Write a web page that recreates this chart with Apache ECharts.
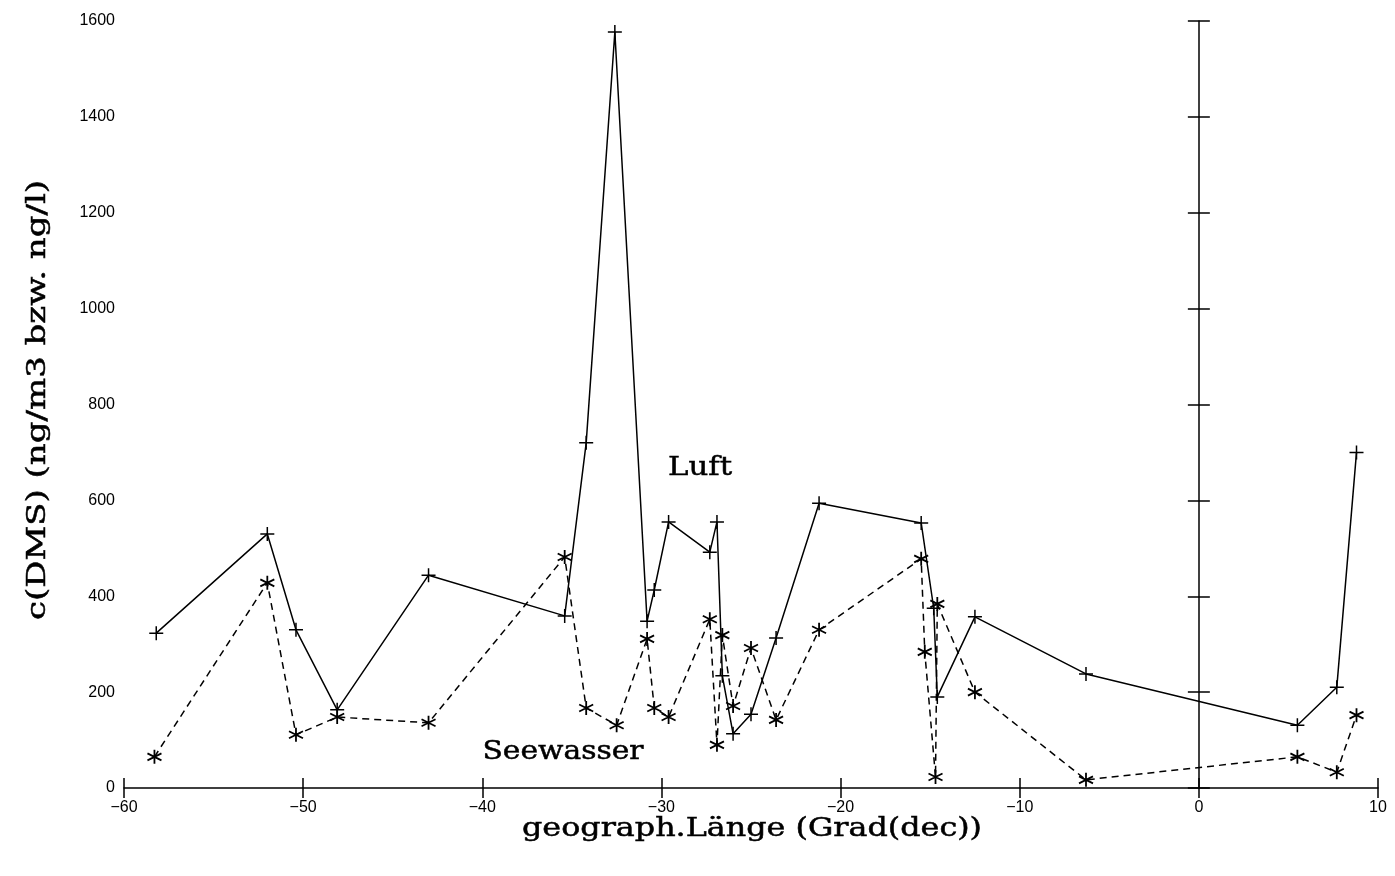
<!DOCTYPE html>
<html>
<head>
<meta charset="utf-8">
<script src="https://cdn.jsdelivr.net/npm/echarts@6/dist/echarts.min.js"></script>
<style>
html,body{margin:0;padding:0;background:#fff;}
#chart{width:1395px;height:876px;}
</style>
</head>
<body>
<div id="chart"></div>
<script>
// Luft (air), solid line with "+" markers
var luftLon = [-58.2, -52.0, -50.4, -48.1, -43.0, -35.4, -34.2, -32.6, -30.8, -30.4, -29.6, -27.3, -26.9, -26.6, -26.0, -25.0, -23.6, -21.2, -15.5, -14.8, -14.6, -12.5, -6.3, 5.5, 7.7, 8.8];
var luftVal = [323, 530, 330, 163, 444, 359, 720, 1577, 348, 413, 555, 492, 555, 234, 113, 154, 313, 594, 553, 375, 190, 357, 238, 131, 210, 700];
// Seewasser (sea water), dashed line with "*" markers
var seeLon = [-58.3, -52.0, -50.4, -48.1, -43.0, -35.4, -34.2, -32.5, -30.8, -30.4, -29.6, -27.3, -26.9, -26.6, -26.0, -25.0, -23.6, -21.2, -15.5, -15.3, -14.7, -14.6, -12.5, -6.3, 5.5, 7.7, 8.8];
var seeVal = [65, 428, 111, 148, 136, 482, 167, 131, 311, 167, 148, 352, 90, 319, 171, 292, 142, 330, 478, 284, 23, 384, 200, 17, 65, 33, 152];

var xTicks = { min: -60, max: 10, interval: 10 };
var yTicks = { min: 0, max: 1600, interval: 200 };

var xTitle = 'geograph.Länge (Grad(dec))';
var yTitle = 'c(DMS) (ng/m3 bzw. ng/l)';
var luftLabel = 'Luft';
var seeLabel = 'Seewasser';

function pairs(xs, ys) { return xs.map(function (x, i) { return [x, ys[i]]; }); }

var serifFont = '26px "DejaVu Serif", "Liberation Serif", serif';
var mctx = document.createElement('canvas').getContext('2d');
mctx.font = serifFont;
function stretch(text, target) { return target / mctx.measureText(text).width; }

function serifText(text, x, y, targetW, rot) {
  return {
    type: 'text', x: x, y: y, rotation: rot || 0,
    scaleX: stretch(text, targetW), scaleY: 1,
    style: { text: text, font: serifFont, fill: '#000', stroke: '#000', lineWidth: 0.5,
             align: 'center', verticalAlign: 'middle',
             textAlign: 'center', textVerticalAlign: 'middle' },
    z: 10
  };
}

var tickFont = { fontFamily: '"Liberation Sans", Arial, sans-serif', fontSize: 16, color: '#000' };
var blk = { color: '#000', width: 1.5 };

var chart = echarts.init(document.getElementById('chart'), null, { renderer: 'canvas' });
chart.setOption({
  backgroundColor: '#fff',
  animation: false,
  grid: { left: 124, right: 17, top: 21, bottom: 88 },
  xAxis: [
    {
      type: 'value', min: xTicks.min, max: xTicks.max, interval: xTicks.interval,
      position: 'bottom',
      axisLine: { show: true, onZero: false, lineStyle: blk },
      axisTick: { show: true, inside: false, length: 10, lineStyle: blk },
      axisLabel: Object.assign({ margin: 12, formatter: function (v) { return String(v).replace('-', '\u2212'); } }, tickFont),
      splitLine: { show: false }
    },
    {
      type: 'value', min: xTicks.min, max: xTicks.max, interval: xTicks.interval,
      position: 'bottom',
      axisLine: { show: false, onZero: false },
      axisTick: { show: true, inside: true, length: 10, lineStyle: blk },
      axisLabel: { show: false },
      splitLine: { show: false }
    }
  ],
  yAxis: [
    {
      type: 'value', min: yTicks.min, max: yTicks.max, interval: yTicks.interval,
      position: 'left',
      axisLine: { show: false, onZero: false },
      axisTick: { show: false },
      axisLabel: Object.assign({ margin: 9, formatter: function (v) { return String(v); } }, tickFont),
      splitLine: { show: false }
    },
    {
      type: 'value', min: yTicks.min, max: yTicks.max, interval: yTicks.interval,
      position: 'left',
      axisLine: { show: true, onZero: true, onZeroAxisIndex: 0, lineStyle: blk },
      axisTick: { show: true, inside: true, length: 11, lineStyle: blk },
      axisLabel: { show: false },
      splitLine: { show: false }
    },
    {
      type: 'value', min: yTicks.min, max: yTicks.max, interval: yTicks.interval,
      position: 'left',
      axisLine: { show: false, onZero: true, onZeroAxisIndex: 0 },
      axisTick: { show: true, inside: false, length: 11, lineStyle: blk },
      axisLabel: { show: false },
      splitLine: { show: false }
    }
  ],
  series: [
    {
      name: luftLabel, type: 'line', xAxisIndex: 0, yAxisIndex: 0,
      data: pairs(luftLon, luftVal),
      symbol: 'path://M0,-1L0,1M-1,0L1,0', symbolSize: 14,
      itemStyle: { color: 'rgba(0,0,0,0)', borderColor: '#000', borderWidth: 1.5 },
      lineStyle: { color: '#000', width: 1.5, type: 'solid' },
      z: 3
    },
    {
      name: seeLabel, type: 'line', xAxisIndex: 0, yAxisIndex: 0,
      data: pairs(seeLon, seeVal),
      symbol: 'path://M0,-1L0,1M-0.87,-0.5L0.87,0.5M-0.87,0.5L0.87,-0.5', symbolSize: 14,
      itemStyle: { color: 'rgba(0,0,0,0)', borderColor: '#000', borderWidth: 1.8 },
      lineStyle: { color: '#000', width: 1.5, type: [7, 5] },
      z: 3
    }
  ],
  graphic: [
    serifText(xTitle, 752, 829, 460, 0),
    serifText(yTitle, 38, 400, 440, Math.PI / 2),
    serifText(luftLabel, 700, 468, 64, 0),
    serifText(seeLabel, 563, 752, 161, 0)
  ]
});
</script>
</body>
</html>
